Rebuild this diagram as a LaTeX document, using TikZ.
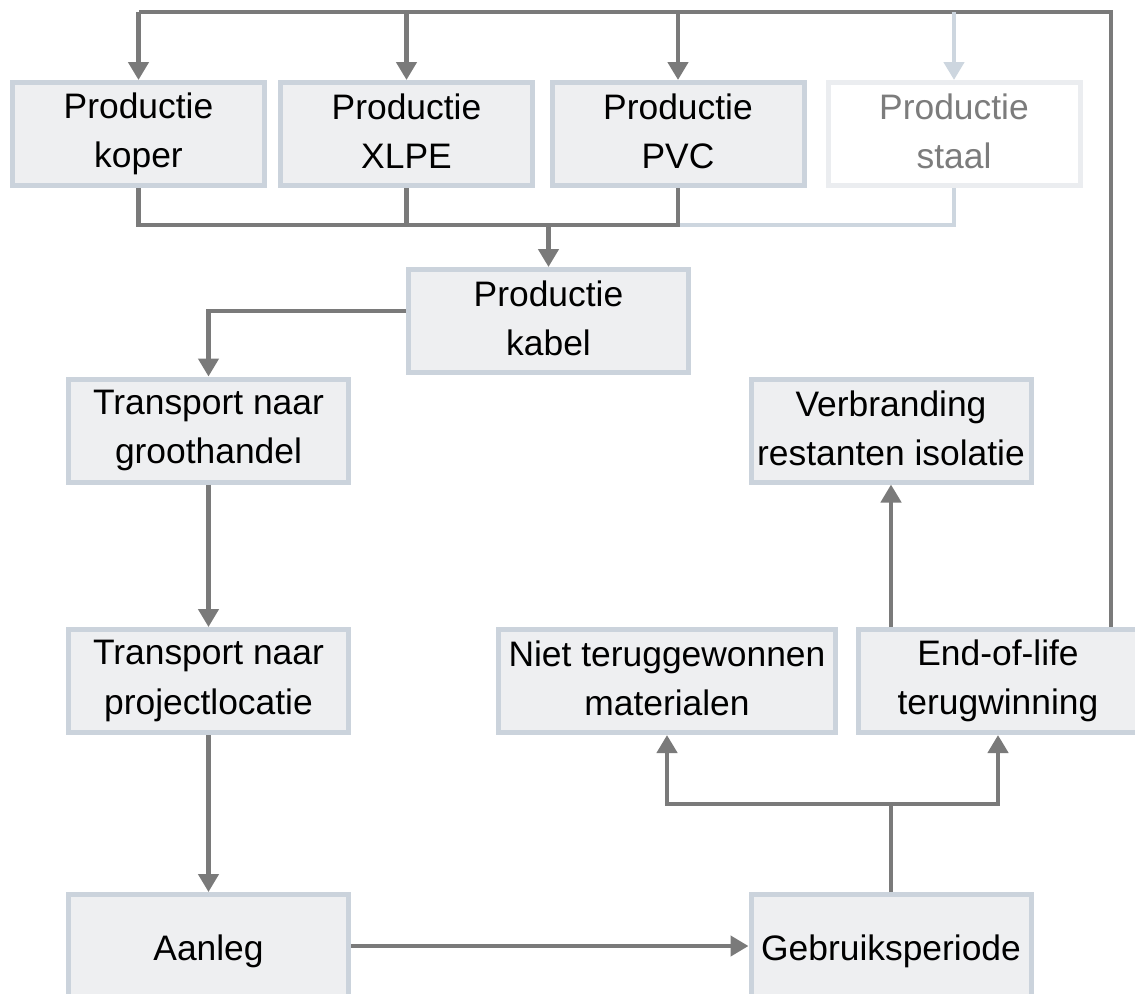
\documentclass[tikz,border=0pt]{standalone}
\usepackage{fontspec}
\setmainfont{Liberation Sans}
\usetikzlibrary{arrows.meta}
\definecolor{flowgray}{HTML}{7A7A7A}
\definecolor{boxedge}{HTML}{CBD3DC}
\definecolor{boxfill}{HTML}{EEEFF1}
\definecolor{faintedge}{HTML}{EBEDF0}
\definecolor{faintflow}{HTML}{CDD6DF}
\definecolor{fainttext}{HTML}{7C7C7C}
\newcommand{\twostrut}{\rule[-2.5pt]{0pt}{21.5pt}}
\newcommand{\onestrut}{\rule[-4.5pt]{0pt}{21.5pt}}

\begin{document}
\begin{tikzpicture}[x=0.5pt, y=-0.5pt,
		box/.style={draw=boxedge, fill=boxfill, line width=2.5pt, align=center, inner sep=0pt,
			font=\fontsize{17.7}{24.6}\selectfont, minimum width=140pt, minimum height=51.5pt,
			execute at begin node=\twostrut, execute at end node=\twostrut},
		onebox/.style={box, execute at begin node=\onestrut, execute at end node=\onestrut},
		prodbox/.style={box, minimum width=126pt},
		faintbox/.style={prodbox, draw=faintedge, fill=white, text=fainttext},
		line/.style={draw=flowgray, line width=2.2pt},
		flow/.style={line, -{Triangle[width=10pt, length=9pt]}},
		faintline/.style={draw=faintflow, line width=2.2pt},
		faintflow/.style={faintline, -{Triangle[width=10pt, length=9pt]}}]
		\useasboundingbox (0,0) rectangle (1135,993);

		\node[prodbox] (koper) at (138.5,134) {Productie\\koper};
		\node[prodbox] (xlpe) at (406.5,134) {Productie\\XLPE};
		\node[prodbox] (pvc) at (678,134) {Productie\\PVC};
		\node[faintbox] (staal) at (954,134) {Productie\\staal};
		\node[box] (kabel) at (548.5,321) {Productie\\kabel};
		\node[box] (groothandel) at (208.5,430.5) {Transport naar\\groothandel};
		\node[box] (verbranding) at (891,430.5) {Verbranding\\restanten isolatie};
		\node[box] (projectlocatie) at (208.5,681) {Transport naar\\projectlocatie};
		\node[box, minimum width=168.5pt] (niet) at (667,681) {Niet teruggewonnen\\materialen};
		\node[box] (eol) at (998,681) {End-of-life\\terugwinning};
		\node[onebox] (aanleg) at (208.5,946) {Aanleg};
		\node[onebox] (gebruik) at (891,946) {Gebruiksperiode};

		\coordinate (topbus) at (1111,12);
		\coordinate (join) at (548.5,225);
		\coordinate (split) at (891,804);

		\draw[line] (eol.north -| topbus) |- (koper.north |- topbus);
		\draw[faintflow] (staal.north |- topbus) -- (staal.north);
		\foreach \src in {koper,xlpe,pvc}
			\draw[flow] (\src.north |- topbus) -- (\src.north);

		\draw[faintline] (staal.south) |- (pvc.south |- join);
		\draw[line] (koper.south) |- (pvc.south |- join) -- (pvc.south)
			(xlpe.south) -- (xlpe.south |- join);
		\draw[flow] (join) -- (kabel.north);

		\draw[flow] ([yshift=5pt]kabel.west) -| (groothandel.north);
		\draw[flow] (groothandel) -- (projectlocatie);
		\draw[flow] (projectlocatie) -- (aanleg);
		\draw[flow] (aanleg) -- (gebruik);

		\draw[line] (gebruik.north) -- (split);
		\draw[flow] (split) -| (niet.south);
		\draw[flow] (split) -| (eol.south);
		\draw[flow] (eol.north -| verbranding.south) -- (verbranding.south);
	\end{tikzpicture}
\end{document}
